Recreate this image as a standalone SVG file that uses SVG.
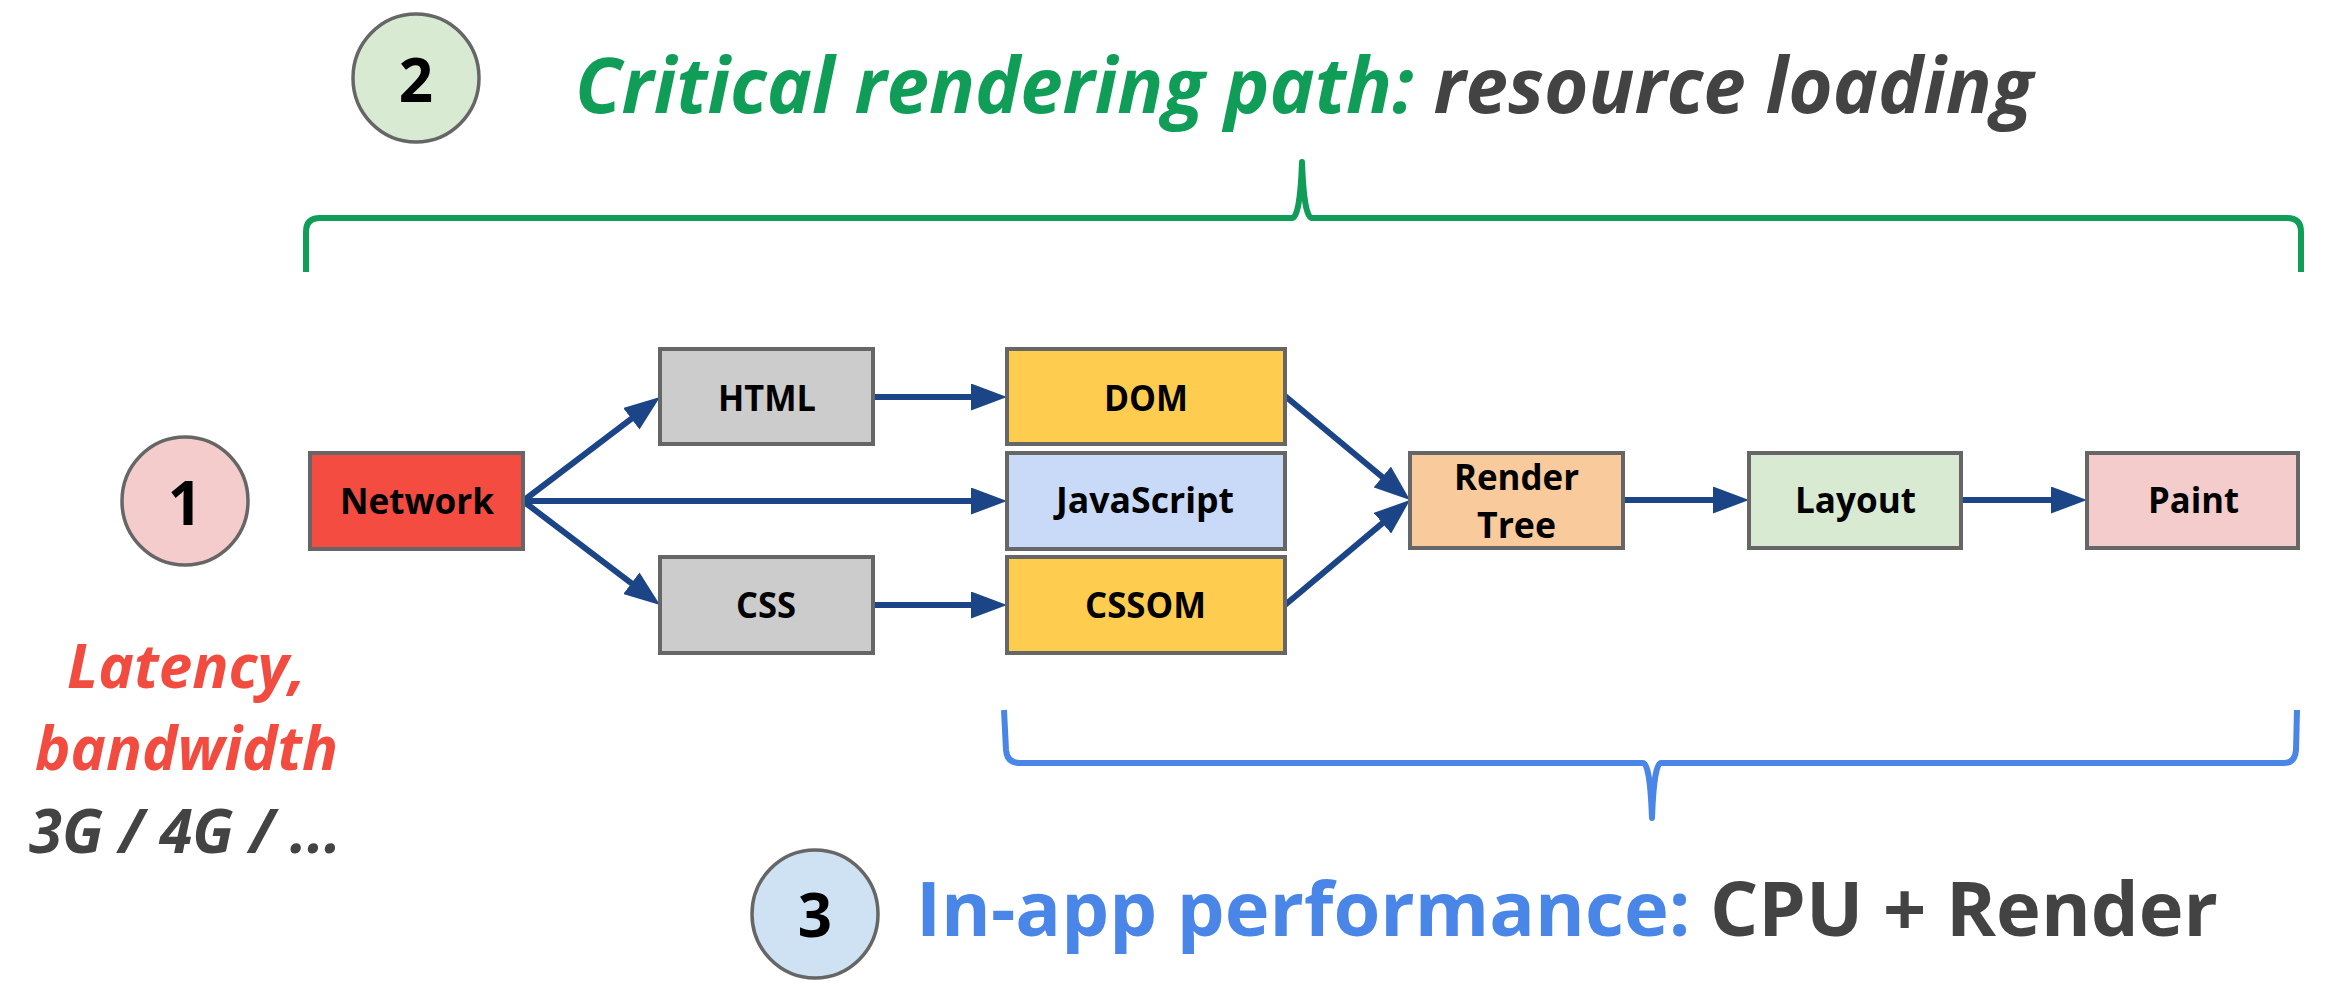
<svg xmlns="http://www.w3.org/2000/svg" width="2328" height="986" viewBox="0 0 2328 986">
<style>
  .box{stroke:#666666;stroke-width:4}
  .lbl{font-family:"Open Sans","Liberation Sans",sans-serif;font-weight:bold;font-size:36px;fill:#000000}
  .num{font-family:"Open Sans","Liberation Sans",sans-serif;font-weight:bold;font-size:60px;fill:#000000;text-anchor:middle}
  .circ{stroke:#666666;stroke-width:3.5}
  .conn{stroke:#1c4587;stroke-width:6;fill:none;marker-end:url(#ah)}
  .title{font-family:"Open Sans","Liberation Sans",sans-serif;font-weight:bold}
  .side{font-family:"Open Sans","Liberation Sans",sans-serif;font-weight:bold;font-style:italic;font-size:60px}
</style>
<defs>
  <marker id="ah" markerUnits="userSpaceOnUse" markerWidth="36" markerHeight="27" refX="16" refY="13.5" orient="auto">
    <path d="M0,0 L36,13.5 L0,27 z" fill="#1c4587"/>
  </marker>
</defs>
<rect width="2328" height="986" fill="#ffffff"/>

<!-- Title 2 -->
<g id="title2">
  <ellipse class="circ" cx="416" cy="78" rx="63" ry="64" fill="#d9ead3"/>
  <text class="num" x="416" y="102">2</text>
  <text class="title" x="575" y="113" font-size="77" font-style="italic" textLength="1458" lengthAdjust="spacingAndGlyphs"><tspan fill="#0f9d58">Critical rendering path: </tspan><tspan fill="#434343">resource loading</tspan></text>
</g>
<path id="bracket-green" d="M306,272 L306,232 Q306,218 320,218 L1292,218 Q1300,218 1302,162 Q1304,218 1312,218 L2287,218 Q2301,218 2301,232 L2301,272" fill="none" stroke="#0f9d58" stroke-width="6" stroke-linejoin="round"/>

<!-- Side 1 -->
<g id="side1">
  <ellipse class="circ" cx="185" cy="501" rx="63" ry="64" fill="#f4cccc"/>
  <text class="num" x="185" y="525">1</text>
  <text class="side" x="67" y="688" fill="#f24b3f" textLength="239" lengthAdjust="spacingAndGlyphs">Latency,</text>
  <text class="side" x="35" y="770" fill="#f24b3f" textLength="303" lengthAdjust="spacingAndGlyphs">bandwidth</text>
  <text class="side" x="29" y="853" fill="#434343" textLength="312" lengthAdjust="spacingAndGlyphs">3G / 4G / ...</text>
</g>

<!-- Connectors -->
<g id="connectors">
  <line class="conn" x1="523" y1="501" x2="644.1" y2="409.1"/>
  <line class="conn" x1="523" y1="501" x2="987" y2="501"/>
  <line class="conn" x1="523" y1="501" x2="644.1" y2="592.9"/>
  <line class="conn" x1="873" y1="397" x2="987" y2="397"/>
  <line class="conn" x1="873" y1="605" x2="987" y2="605"/>
  <line class="conn" x1="1285" y1="396" x2="1394.6" y2="487.2"/>
  <line class="conn" x1="1285" y1="605" x2="1394.7" y2="512.9"/>
  <line class="conn" x1="1623" y1="500" x2="1729" y2="500"/>
  <line class="conn" x1="1961" y1="500" x2="2067" y2="500"/>
</g>

<g id="network">
  <rect class="box" x="310" y="453" width="213" height="96" fill="#f44c40"/>
  <text class="lbl" x="340" y="514" textLength="154" lengthAdjust="spacingAndGlyphs">Network</text>
</g>
<g id="html">
  <rect class="box" x="660" y="349" width="213" height="95" fill="#cccccc"/>
  <text class="lbl" x="718" y="411" textLength="98" lengthAdjust="spacingAndGlyphs">HTML</text>
</g>
<g id="css">
  <rect class="box" x="660" y="557" width="213" height="96" fill="#cccccc"/>
  <text class="lbl" x="736" y="618" textLength="60" lengthAdjust="spacingAndGlyphs">CSS</text>
</g>
<g id="dom">
  <rect class="box" x="1007" y="349" width="278" height="95" fill="#fecd4f"/>
  <text class="lbl" x="1104" y="411" textLength="84" lengthAdjust="spacingAndGlyphs">DOM</text>
</g>
<g id="javascript">
  <rect class="box" x="1007" y="453" width="278" height="96" fill="#c9daf8"/>
  <text class="lbl" x="1056" y="513" textLength="178" lengthAdjust="spacingAndGlyphs">JavaScript</text>
</g>
<g id="cssom">
  <rect class="box" x="1007" y="557" width="278" height="96" fill="#fecd4f"/>
  <text class="lbl" x="1085" y="618" textLength="121" lengthAdjust="spacingAndGlyphs">CSSOM</text>
</g>
<g id="render-tree">
  <rect class="box" x="1410" y="453" width="213" height="95" fill="#f9cb9c"/>
  <text class="lbl" x="1454" y="490" textLength="125" lengthAdjust="spacingAndGlyphs">Render</text>
  <text class="lbl" x="1477" y="538" textLength="79" lengthAdjust="spacingAndGlyphs">Tree</text>
</g>
<g id="layout">
  <rect class="box" x="1749" y="453" width="212" height="95" fill="#d9ead3"/>
  <text class="lbl" x="1795" y="513" textLength="121" lengthAdjust="spacingAndGlyphs">Layout</text>
</g>
<g id="paint">
  <rect class="box" x="2087" y="453" width="211" height="95" fill="#f4cccc"/>
  <text class="lbl" x="2148" y="513" textLength="91" lengthAdjust="spacingAndGlyphs">Paint</text>
</g>

<path id="bracket-blue" d="M1004,710 L1006,750 Q1007,763 1020,763 L1643,763 Q1650,763 1652,818 Q1654,763 1661,763 L2284,763 Q2295,763 2296,750 L2297,710" fill="none" stroke="#4a86e8" stroke-width="6" stroke-linejoin="round"/>

<!-- Title 3 -->
<g id="title3">
  <ellipse class="circ" cx="815" cy="914" rx="63" ry="64" fill="#cfe2f3"/>
  <text class="num" x="815" y="937">3</text>
  <text class="title" x="916" y="936" font-size="75" textLength="1302" lengthAdjust="spacingAndGlyphs"><tspan fill="#4a86e8">In-app performance: </tspan><tspan fill="#434343">CPU + Render</tspan></text>
</g>
</svg>
